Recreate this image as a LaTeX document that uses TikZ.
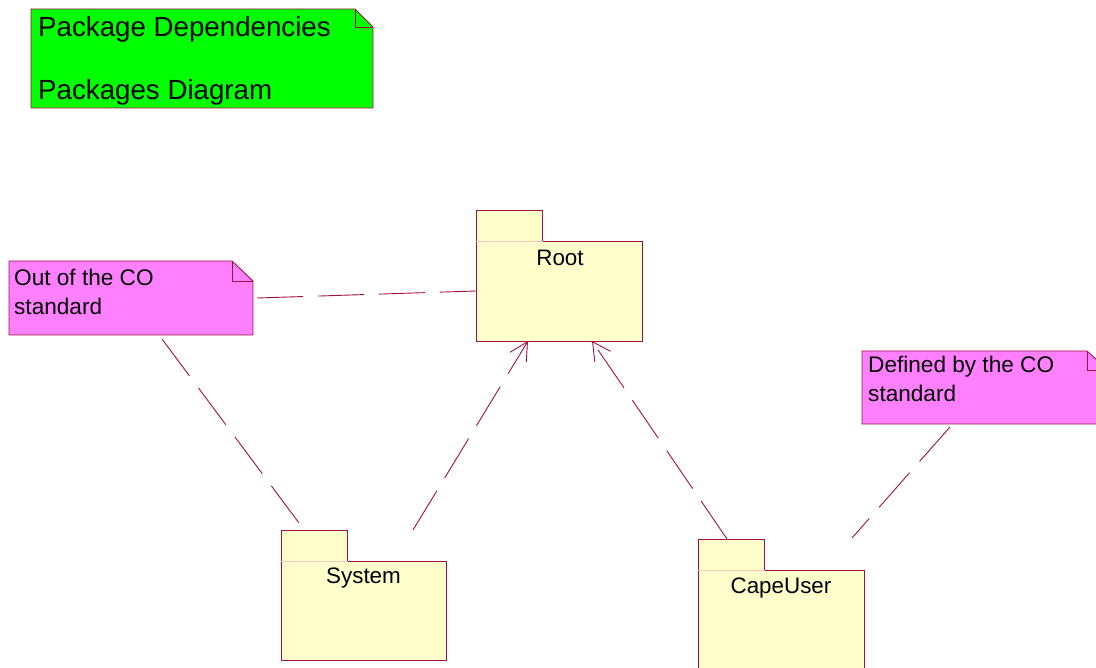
\documentclass[tikz,border=0pt]{standalone}
\usepackage{fontspec}
\setmainfont{Liberation Sans}
\usetikzlibrary{arrows.meta}

\definecolor{umlline}{RGB}{160,16,72}
\definecolor{pkgfill}{RGB}{255,255,204}
\definecolor{tabline}{RGB}{240,200,190}
\definecolor{notepink}{RGB}{255,128,255}
\definecolor{notegreen}{RGB}{0,255,0}

\begin{document}
\begin{tikzpicture}[x=1pt, y=-1pt,
    package/.style ={rectangle, draw=umlline, fill=pkgfill, line width=0.9pt, inner sep=0pt, outer sep=0pt, anchor=north west},
    packagetab/.style ={rectangle, draw=tabline, fill=pkgfill, line width=0.9pt, inner sep=0pt, outer sep=0pt,
        minimum width=66pt, minimum height=31pt, anchor=south west},
    notebox/.style ={rectangle, inner sep=0pt, outer sep=0pt, anchor=north west},
    noteedge/.style ={draw=umlline, line width=0.9pt, line join=miter},
    notetext/.style ={inner sep=0pt, align=left, anchor=north west, font=\fontsize{22.6}{28.5}\selectfont},
    pkgname/.style ={inner sep=0pt, anchor=base, font=\fontsize{22.4}{26}\selectfont},
    dep/.style ={draw=umlline, line width=0.9pt, dash pattern=on 46pt off 15pt},
    uses/.style ={dep, -{Straight Barb[length=18pt, width=19pt, line width=0.9pt]}}]

   \clip (0,0) rectangle (1096,668);
   \useasboundingbox (0,0) rectangle (1096,668);

   % title note
   \node[notebox, minimum width=342pt, minimum height=99pt] (title) at (31,9) {};
   \draw[noteedge, fill=notegreen] (title.north west) -- ([xshift=-18pt]title.north east)
       -- ([yshift=-18pt]title.north east) |- (title.south west) -- cycle;
   \draw[noteedge] ([xshift=-18pt]title.north east) |- ([yshift=-18pt]title.north east);
   \node[inner sep=0pt, anchor=base west, font=\fontsize{27.7}{32}\selectfont] (titletext) at (38,37) {Package Dependencies};
   \node[inner sep=0pt, anchor=base west, font=\fontsize{27.7}{32}\selectfont] (subtitletext) at (38,100) {Packages Diagram};

   % packages
   \node[package, minimum width=166pt, minimum height=100pt] (root) at (476,241) {};
   \node[package, minimum width=165pt, minimum height=99pt] (system) at (281,561) {};
   \node[package, minimum width=166pt, minimum height=100pt] (capeuser) at (698,570) {};

   \node[packagetab] (roottab) at (root.north west) {};
   \node[packagetab] (systemtab) at (system.north west) {};
   \node[packagetab] (capeusertab) at (capeuser.north west) {};
   \foreach \t in {roottab,systemtab,capeusertab}
      \draw[noteedge] (\t.south west) |- (\t.north east) -- (\t.south east);

   \node[pkgname] (rootname) at ([xshift=1pt,yshift=-25pt]root.north) {Root};
   \node[pkgname] (systemname) at ([yshift=-22pt]system.north) {System};
   \node[pkgname] (capeusername) at ([yshift=-23pt]capeuser.north) {CapeUser};

   % notes
   \node[notebox, minimum width=244pt, minimum height=74pt] (outco) at (9,261) {};
   \draw[noteedge, fill=notepink] (outco.north west) -- ([xshift=-21pt]outco.north east)
       -- ([yshift=-20pt]outco.north east) |- (outco.south west) -- cycle;
   \draw[noteedge] ([xshift=-21pt]outco.north east) |- ([yshift=-20pt]outco.north east);
   \node[notetext] (outcotext) at ([xshift=5pt,yshift=-8pt]outco.north west) {Out of the CO\\standard};

   \node[notebox, minimum width=246pt, minimum height=73pt] (inco) at (862,351) {};
   \draw[noteedge, fill=notepink] (inco.north west) -- ([xshift=-21pt]inco.north east)
       -- ([yshift=-19pt]inco.north east) |- (inco.south west) -- cycle;
   \draw[noteedge] ([xshift=-21pt]inco.north east) |- ([yshift=-19pt]inco.north east);
   \node[notetext] (incotext) at ([xshift=6pt,yshift=-5pt]inco.north west) {Defined by the CO\\standard};

   % dependencies
   \draw[dep] ([xshift=4pt]outco.east) -- (root.west);
   \draw[dep] ([xshift=31pt,yshift=-4pt]outco.south) -- ([xshift=-15pt,yshift=7pt]systemtab.north);
   \draw[uses] ([xshift=-33pt,yshift=31pt]system.north east) -- ([xshift=-31pt]root.south);
   \draw[uses] ([xshift=-4pt]capeusertab.north) -- ([xshift=33pt]root.south);
   \draw[dep] ([xshift=88pt,yshift=-3pt]inco.south west) -- ([xshift=-12pt,yshift=32pt]capeuser.north east);

\end{tikzpicture}
\end{document}
